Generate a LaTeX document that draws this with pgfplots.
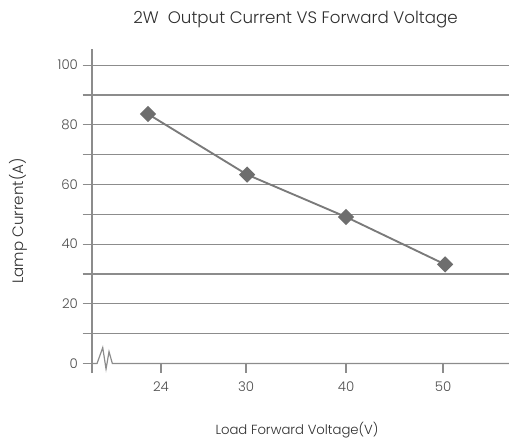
\documentclass[border=0pt]{standalone}
\usepackage{fontspec}
\setmainfont{Poppins}[UprightFont=* Light]
\usepackage{pgfplots}
\pgfplotsset{compat=1.18}
\definecolor{gridgray}{HTML}{8C8C8C}
\definecolor{linegray}{HTML}{7A7A7A}
\definecolor{markgray}{HTML}{6E6E6E}
\definecolor{txtgray}{HTML}{2E2E2E}

% data: load forward voltage categories plotted at 0..3
\pgfplotstableread{
idx current
0 83.6
1 63.3
2 49.1
3 33.2
}\curdata

\begin{document}
\begin{tikzpicture}
\path[use as bounding box] (0,0) rectangle (381.75pt,332.25pt);
\begin{axis}[
    at={(69pt,52.5pt)}, anchor=south west,
    scale only axis,
    width=312.75pt, height=243pt,
    xmin=-0.566, xmax=3.646,
    ymin=-3.2, ymax=105.4,
    axis x line=middle, axis y line=left,
    axis line style={-, draw=gridgray, line width=0.9pt},
    x axis line style={draw=none},
    hide obscured x ticks=false, hide obscured y ticks=false,
    xtick={0.13,0.99,2,2.98},
    xticklabels={24,30,40,50},
    ytick={20,40,60,80,100},
    extra y ticks={0},
    extra y tick style={grid=none},
    minor ytick={10,30,50,70,90},
    ymajorgrids, yminorgrids,
    grid style={draw=gridgray, line width=0.9pt},
    minor grid style={draw=gridgray, line width=0.9pt},
    tick align=outside,
    major tick length=7pt, minor tick length=7pt,
    tick style={draw=gridgray, line width=0.9pt},
    /pgf/number format/assume math mode=true,
    tick label style={font=\fontsize{10}{12}\selectfont, text=txtgray!85},
    xticklabel style={yshift=-3.5pt},
    clip=false,
]
% axis break on the x axis, then the zero line
\draw[gridgray, line width=0.9pt] (axis cs:-0.566,0) -- (axis cs:-0.515,0)
    -- (axis cs:-0.4576,5.3) -- (axis cs:-0.4242,-1.84) -- (axis cs:-0.394,3.95)
    -- (axis cs:-0.3606,0) -- (axis cs:3.646,0);
\addplot[linegray, line width=1.4pt, mark=square*,
    mark options={rotate=45, fill=markgray, draw=markgray}, mark size=3.6pt]
    table[x=idx, y=current] {\curdata};
\end{axis}
\node[text=txtgray, font=\fontsize{12.5}{14}\selectfont] at (221.6pt,317.25pt)
    {2W\ \ Output Current VS Forward Voltage};
\node[text=txtgray, rotate=90, font=\fontsize{11.3}{13}\selectfont] at (13.5pt,166.5pt)
    {Lamp Current(A)};
\node[text=txtgray, font=\fontsize{9.9}{12}\selectfont] at (222.75pt,9.75pt)
    {Load Forward Voltage(V)};
\end{tikzpicture}
\end{document}
